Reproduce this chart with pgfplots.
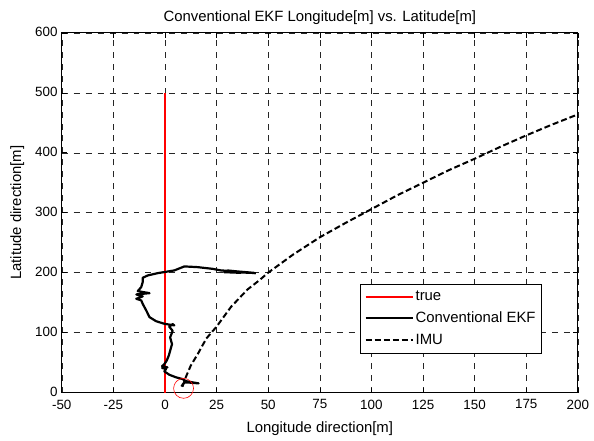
\documentclass[border=0pt]{standalone}
\usepackage{fontspec}
\setmainfont{Liberation Sans}
\usepackage{pgfplots}
\pgfplotsset{compat=1.18}
\begin{document}
\fontsize{15}{18}\selectfont
\begin{tikzpicture}
\begin{axis}[
  scale only axis, width=518bp, height=361bp,
  xmin=-50, xmax=200, ymin=0, ymax=600,
  xtick={-50,-25,...,200}, ytick={0,100,...,600},
  grid=major,
  major grid style={dash pattern=on 6bp off 6bp, black!85, line width=0.5bp},
  tick align=inside, major tick length=5bp,
  tick style={black, line width=0.6bp},
  axis line style={black, line width=0.8bp},
  /pgf/number format/assume math mode=true,
  ticklabel style={font=\fontsize{13.5}{15}\selectfont},
  yticklabel style={xshift=1bp, yshift=1bp},
  xticklabel style={yshift=-2bp},
  title={Conventional EKF Longitude[m] vs. Latitude[m]},
  title style={font=\fontsize{15}{18}\selectfont, yshift=-3bp},
  xlabel={Longitude direction[m]},
  ylabel={Latitude direction[m]},
  xlabel style={font=\fontsize{15}{18}\selectfont, yshift=-2bp},
  ylabel style={font=\fontsize{15}{18}\selectfont, yshift=1bp},
  legend style={at={(0.9305,0.108)}, anchor=south east, draw=black, line width=0.8bp,
    fill=white, font=\fontsize{15}{18}\selectfont, row sep=5bp, inner xsep=4bp, inner ysep=5bp},
  legend cell align=left,
  legend image code/.code={\draw[#1] (0bp,0bp) -- (47bp,0bp);},
]
\addplot[red, line width=1.8bp] coordinates {(0,0) (0,500)};
\addlegendentry{true}
\addplot[black, line width=2.2bp, line join=round] coordinates {
(8,10) (8.5,13) (9.5,17) (12,16.5) (16.3,15.3) (13.4,17) (10.2,19) (8.5,22.5) (5.4,25.3)
(2.1,29.7) (-0.3,35.3) (0.5,39.2) (-1.4,41) (1.2,42) (-1.4,44) (-0.3,47.5) (0.8,53)
(1.8,61.3) (2.5,69.7) (3.4,80.8) (2.5,92) (3.7,103) (2.1,109.7) (3.7,114.2) (4.5,112)
(-0.3,114.7) (-4.3,119) (-7.5,125.8) (-9.1,137) (-10.8,148) (-11.5,153.7) (-13.9,156.4)
(-10.8,160.4) (-13.9,163.7) (-7.5,165.8) (-13.2,169.2) (-11.5,175.9) (-10.8,184.2)
(-10.8,191.4) (-8.3,195.4) (-3.5,199.2) (4.5,203.7) (9.4,210.4) (15.8,209.2) (23,206.4)
(27.1,203.7) (33.5,202.5) (43.1,199.7) (28.7,200.8) (36.7,199.7) (30.3,203.7) (38,201) (44,199)
};
\addlegendentry{Conventional EKF}
\addplot[black, line width=2bp, dash pattern=on 6bp off 3bp] coordinates {
(8.5,10) (10,25) (12.5,45) (16,65) (20,90) (25,110) (32,143) (40,172) (45.6,187) (50,200)
(62,230) (75,259) (87.5,283) (100,306) (112.5,329) (125,350) (137.5,371) (150,390)
(162.5,410) (175,429) (187.5,447) (200,464)
};
\addlegendentry{IMU}
\addplot[red, only marks, mark=o, mark size=10bp, mark options={line width=0.6bp}, forget plot] coordinates {(9,7)};
\end{axis}
\path[use as bounding box] ([shift={(-62bp,-47bp)}]current axis.south west) rectangle ++(594bp,441bp);
\end{tikzpicture}
\end{document}
